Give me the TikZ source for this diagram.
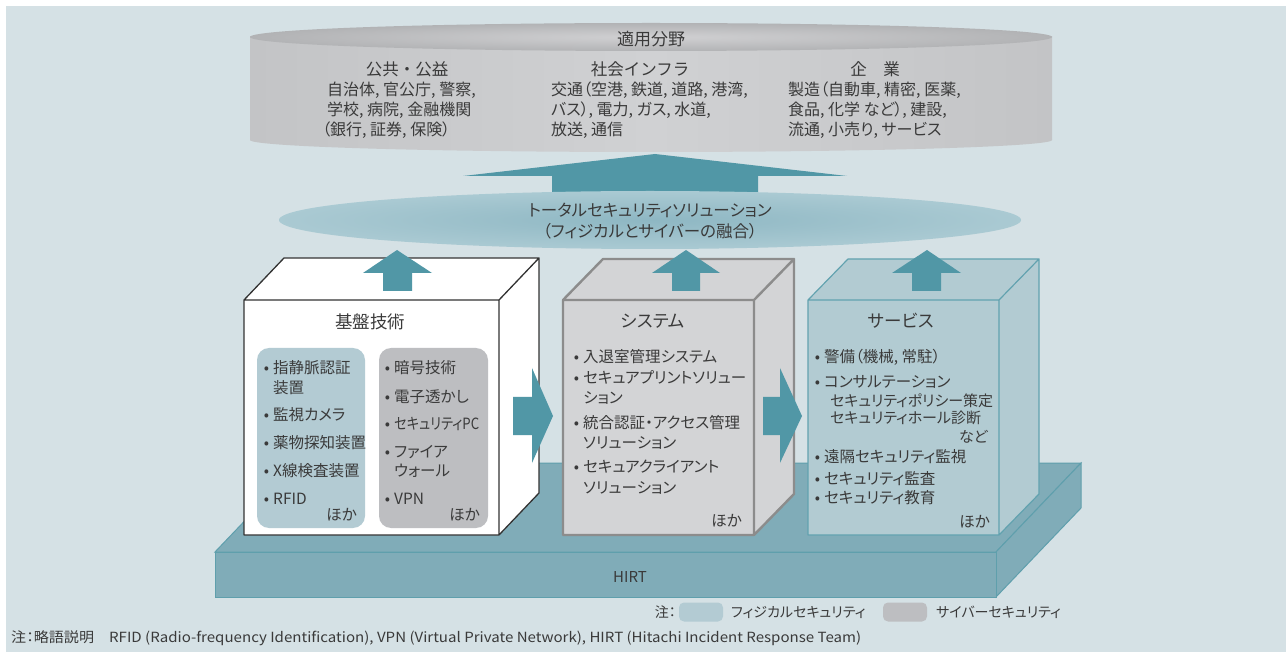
\documentclass[tikz,border=0pt]{standalone}
\usepackage{fontspec}
\usepackage{graphicx}
\setmainfont{Noto Sans CJK JP}[RawFeature=+palt]
\newfontfamily\jpfull{Noto Sans CJK JP}
\definecolor{bg}{HTML}{D5E1E5}
\definecolor{tealc}{HTML}{5197A6}
\definecolor{phys}{HTML}{B3CBD3}
\definecolor{cyb}{HTML}{BDBEC1}
\definecolor{sysfill}{HTML}{D3D4D6}
\definecolor{sysline}{HTML}{8C8C8C}
\definecolor{svcfill}{HTML}{B2CBD2}
\definecolor{svcline}{HTML}{62A2AF}
\definecolor{plat}{HTML}{80ACB8}
\definecolor{platline}{HTML}{5F9FAC}
\definecolor{txt}{HTML}{3A3A3A}
\definecolor{cylbody}{HTML}{D0D1D3}
\definecolor{cylside}{HTML}{C3C4C6}
\definecolor{topA}{HTML}{D0D0D2}
\definecolor{topB}{HTML}{B2B3B5}
\definecolor{topC}{HTML}{86878A}
\definecolor{midA}{HTML}{8EB7C3}
\definecolor{midB}{HTML}{B2CFD7}
\pgfdeclareradialshading{topell}{\pgfpoint{0bp}{0bp}}{color(0bp)=(topA); color(25bp)=(topB); color(50bp)=(topC)}
\pgfdeclareradialshading{midell}{\pgfpoint{0bp}{0bp}}{color(0bp)=(midA); color(32bp)=(midB); color(50bp)=(white)}
\newcommand\bu{\llap{•\hspace{4pt}}}
\begin{document}
\begin{tikzpicture}[x=1pt,y=-1pt,
  cyl/.style={inner sep=0pt, text=txt, text height=14.1pt, text depth=1.9pt, font=\fontsize{16}{18}\selectfont},
  cylh/.style={inner sep=0pt, text=txt, text height=14.5pt, text depth=2pt, font=\jpfull\fontsize{16.5}{20}\selectfont},
  item/.style={inner sep=0pt, text=txt, text height=13.6pt, text depth=1.9pt, font=\fontsize{15.5}{18}\selectfont, anchor=west},
  sitem/.style={item, text height=13.2pt, text depth=1.8pt, font=\fontsize{15}{18}\selectfont},
  ttl/.style={inner sep=0pt, text=txt, text height=15.4pt, text depth=2.1pt, font=\fontsize{17.5}{20}\selectfont},
  small/.style={inner sep=0pt, text=txt, text height=12.3pt, text depth=1.7pt, font=\fontsize{14}{16}\selectfont},
  arr/.style={fill=tealc, draw=none},
  legbox/.style={draw=none, rounded corners=5pt, minimum width=44pt, minimum height=19pt, inner sep=0pt}
]
\useasboundingbox (0,0) rectangle (1286,652);
\fill[white] (0,0) rectangle (1286,652);
\fill[bg] (6,6) rectangle (1286,652);

% ---- cylinder (application fields)
\shade[left color=cylside, right color=cylside, middle color=cylbody] (250,37) rectangle (1052,140);
\shade[left color=cylside, right color=cylside, middle color=cylbody] (651,140) ellipse [x radius=401pt, y radius=12pt];
\shade[shading=topell] (651,37) ellipse [x radius=401pt, y radius=14pt];
\node[cyl, font=\fontsize{17}{20}\selectfont] (apptitle) at (651,39) {適用分野};
\node[cylh] (h1) at (407,69) {公共・公益};
\node[cylh] (h2) at (640,69) {社会インフラ};
\node[cylh] (h3) at (875,69) {企　業};
\node[cyl,anchor=west] (p1) at (327,89) {自治体, 官公庁, 警察,};
\node[cyl,anchor=west] (p2) at (327,109) {学校, 病院, 金融機関};
\node[cyl,anchor=west] (p3) at (322,129) {（銀行, 証券, 保険）};
\node[cyl,anchor=west] (s1) at (551,89) {交通（空港, 鉄道, 道路, 港湾,};
\node[cyl,anchor=west] (s2) at (551,109) {バス）, 電力, ガス, 水道,};
\node[cyl,anchor=west] (s3) at (551,129) {放送, 通信};
\node[cyl,anchor=west] (e1) at (788,89) {製造（自動車, 精密, 医薬,};
\node[cyl,anchor=west] (e2) at (788,109) {食品, 化学 など）, 建設,};
\node[cyl,anchor=west] (e3) at (788,129) {流通, 小売り, サービス};

% ---- big up arrow
\fill[arr] (463,176) -- (655,154) -- (847,176) -- (758,176) -- (758,200) -- (552,200) -- (552,176) -- cycle;

% ---- total solution ellipse
\shade[shading=midell] (650,220) ellipse [x radius=371pt, y radius=29pt];
\node[cyl, font=\fontsize{16.5}{18}\selectfont] (tot1) at (650,210) {トータルセキュリティソリューション};
\node[cyl, font=\fontsize{16.5}{18}\selectfont] (tot2) at (650,231) {（フィジカルとサイバーの融合）};

% ---- platform HIRT
\filldraw[fill=plat, draw=platline, line width=1pt] (215,552) -- (300,463) -- (1081,463) -- (996,552) -- cycle;
\filldraw[fill=plat, draw=platline, line width=1pt] (996,552) -- (1081,463) -- (1081,508) -- (996,597) -- cycle;
\filldraw[fill=plat, draw=platline, line width=1pt] (215,552) rectangle (996,597);
\node[small, font=\fontsize{15}{18}\selectfont] (hirt) at (630,577) {HIRT};

% ---- box 1 : 基盤技術
\filldraw[fill=white, draw=black!80, line width=1.3pt, line join=round]
  (244,300) -- (284,258) -- (539,258) -- (499,300) -- cycle
  (499,300) -- (539,258) -- (539,493) -- (499,535) -- cycle
  (244,300) rectangle (499,535);
\fill[phys, rounded corners=12pt] (257,348) rectangle (365,528);
\fill[cyb, rounded corners=12pt] (379,348) rectangle (488,528);

% ---- box 2 : システム
\filldraw[fill=sysfill, draw=sysline, line width=2.4pt, line join=round]
  (563,300) -- (603,259) -- (794,259) -- (754,300) -- cycle
  (754,300) -- (794,259) -- (794,494) -- (754,535) -- cycle
  (563,300) rectangle (754,535);

% ---- box 3 : サービス
\filldraw[fill=svcfill, draw=svcline, line width=1.2pt, line join=round]
  (808,300) -- (848,259) -- (1039,259) -- (999,300) -- cycle
  (999,300) -- (1039,259) -- (1039,494) -- (999,535) -- cycle
  (808,300) rectangle (999,535);

% ---- small up arrows
\fill[arr] (363,273) -- (397,250) -- (432,273) -- (412,273) -- (412,291) -- (383,291) -- (383,273) -- cycle;
\fill[arr] (652,273) -- (686,250) -- (720,273) -- (700,273) -- (700,291) -- (672,291) -- (672,273) -- cycle;
\fill[arr] (892,273) -- (927,250) -- (961,273) -- (941,273) -- (941,291) -- (912,291) -- (912,273) -- cycle;

% ---- right arrows
\fill[arr] (513,397) -- (532,397) -- (532,368) -- (553,416) -- (532,463) -- (532,435) -- (513,435) -- cycle;
\fill[arr] (763,397) -- (780,397) -- (780,368) -- (802,416) -- (780,463) -- (780,435) -- (763,435) -- cycle;

% ---- box 1 texts
\node[ttl] (t1) at (370,322) {基盤技術};
\node[item] (a1) at (273,368) {\bu 指静脈認証};
\node[item] (a1b) at (273,388) {装置};
\node[item] (a2) at (273,415) {\bu 監視カメラ};
\node[item] (a3) at (273,443) {\bu 薬物探知装置};
\node[item] (a4) at (273,471) {\bu X線検査装置};
\node[item] (a5) at (273,499) {\bu RFID};
\node[item,anchor=east] (a6) at (357,515) {ほか};
\node[item] (c1) at (394,368) {\bu 暗号技術};
\node[item] (c2) at (394,397) {\bu 電子透かし};
\node[item] (c3) at (394,424) {\bu \resizebox{85pt}{\height}{セキュリティPC}};
\node[item] (c4) at (394,452) {\bu ファイア};
\node[item] (c4b) at (394,471) {ウォール};
\node[item] (c5) at (394,499) {\bu VPN};
\node[item,anchor=east] (c6) at (480,515) {ほか};

% ---- box 2 texts
\node[ttl] (t2) at (653,321) {システム};
\node[item] (d1) at (583,357) {\bu 入退室管理システム};
\node[item] (d2) at (583,378) {\bu セキュアプリントソリュー};
\node[item] (d2b) at (583,398) {ション};
\node[item] (d3) at (583,423) {\bu 統合認証・アクセス管理};
\node[item] (d3b) at (583,443) {ソリューション};
\node[item] (d4) at (583,467) {\bu セキュアクライアント};
\node[item] (d4b) at (583,488) {ソリューション};
\node[item,anchor=east] (d5) at (742,521) {ほか};

% ---- box 3 texts
\node[ttl] (t3) at (901,321) {サービス};
\node[item] (f1) at (824,357) {\bu 警備（機械, 常駐）};
\node[item] (f2) at (824,382) {\bu コンサルテーション};
\node[sitem] (f2a) at (830,401) {セキュリティポリシー策定};
\node[sitem] (f2b) at (830,418) {セキュリティホール診断};
\node[sitem,anchor=east] (f2c) at (988,437) {など};
\node[item] (f3) at (824,457) {\bu 遠隔セキュリティ監視};
\node[item] (f4) at (824,479) {\bu セキュリティ監査};
\node[item] (f5) at (824,498) {\bu セキュリティ教育};
\node[item,anchor=east] (f6) at (990,522) {ほか};

% ---- legend
\node[small,anchor=east] (lg0) at (676,612) {注：};
\node[legbox, fill=phys] (lgb) at (701,612) {};
\node[small,anchor=west] (lg1) at (731,612) {フィジカルセキュリティ};
\node[legbox, fill=cyb] (lgg) at (905,612) {};
\node[small,anchor=west] (lg2) at (936,612) {サイバーセキュリティ};

% ---- footnote
\node[small,anchor=west] (foot) at (11,637) {\resizebox{850pt}{\height}{注：略語説明\hspace{14pt}RFID (Radio-frequency Identification), VPN (Virtual Private Network), HIRT (Hitachi Incident Response Team)}};
\end{tikzpicture}
\end{document}
